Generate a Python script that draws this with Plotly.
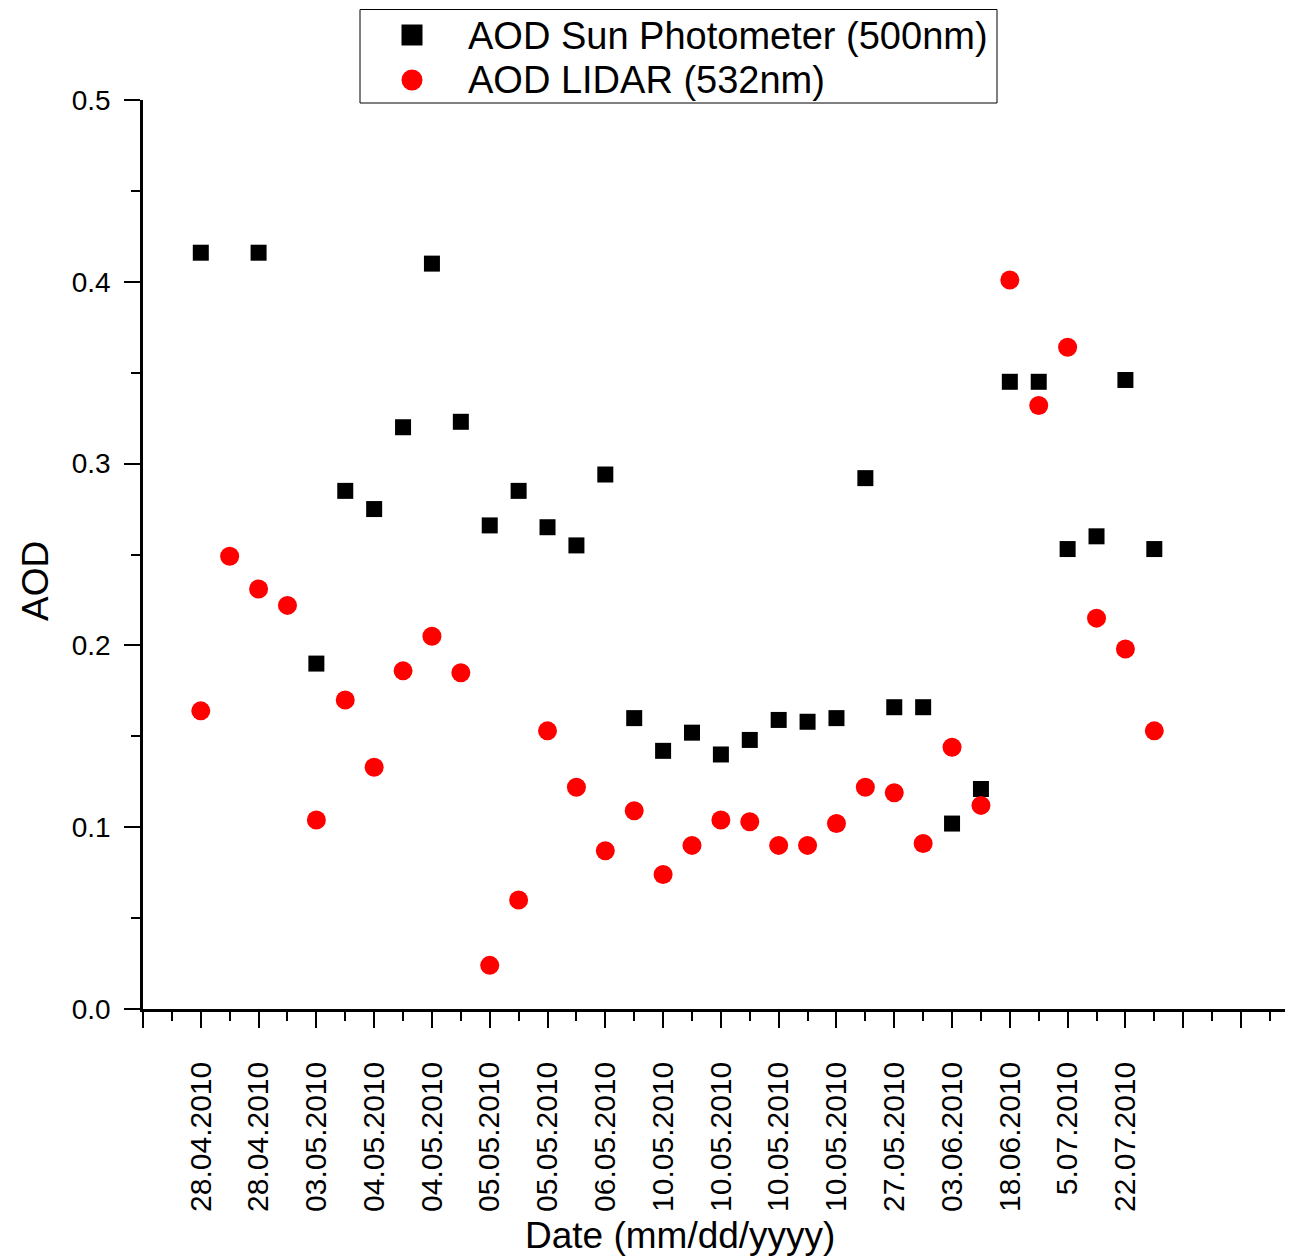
import plotly.graph_objects as go

# ---------------- data ----------------
date_labels = ["28.04.2010", "28.04.2010", "03.05.2010", "04.05.2010", "04.05.2010",
               "05.05.2010", "05.05.2010", "06.05.2010", "10.05.2010", "10.05.2010",
               "10.05.2010", "10.05.2010", "27.05.2010", "03.06.2010", "18.06.2010",
               "5.07.2010", "22.07.2010"]
label_positions = [2, 4, 6, 8, 10, 12, 14, 16, 18, 20, 22, 24, 26, 28, 30, 32, 34]

sun_x = [2, 4, 6, 7, 8, 9, 10, 11, 12, 13, 14, 15, 16, 17, 18, 19, 20, 21, 22, 23,
         24, 25, 26, 27, 28, 29, 30, 31, 32, 33, 34, 35]
sun_aod = [0.416, 0.416, 0.190, 0.285, 0.275, 0.320, 0.410, 0.323, 0.266, 0.285,
           0.265, 0.255, 0.294, 0.160, 0.142, 0.152, 0.140, 0.148, 0.159, 0.158,
           0.160, 0.292, 0.166, 0.166, 0.102, 0.121, 0.345, 0.345, 0.253, 0.260,
           0.346, 0.253]

lidar_x = [2, 3, 4, 5, 6, 7, 8, 9, 10, 11, 12, 13, 14, 15, 16, 17, 18, 19, 20, 21,
           22, 23, 24, 25, 26, 27, 28, 29, 30, 31, 32, 33, 34, 35]
lidar_aod = [0.164, 0.249, 0.231, 0.222, 0.104, 0.170, 0.133, 0.186, 0.205, 0.185,
             0.024, 0.060, 0.153, 0.122, 0.087, 0.109, 0.074, 0.090, 0.104, 0.103,
             0.090, 0.090, 0.102, 0.122, 0.119, 0.091, 0.144, 0.112, 0.401, 0.332,
             0.364, 0.215, 0.198, 0.153]

# ---------------- layout geometry ----------------
# the page body has an 8px margin, so the figure is drawn 8px smaller/offset
OFF = 8
W, H = 1293 - OFF, 1259 - OFF
ML, MR, MT = 143 - OFF, 0, 100 - OFF
PLOT_BOTTOM = 1009 - OFF
MB = H - PLOT_BOTTOM
PW, PH = W - ML - MR, H - MT - MB


def px(xp):
    """reference page pixel x -> paper coordinate"""
    return (xp - OFF - ML) / PW


def py(yp):
    """reference page pixel y -> paper coordinate"""
    return (PLOT_BOTTOM - (yp - OFF)) / PH


FONT = "Arial, Liberation Sans, sans-serif"

fig = go.Figure()
fig.add_trace(go.Scatter(x=sun_x, y=sun_aod, mode="markers", name="AOD Sun Photometer (500nm)",
                         marker=dict(symbol="square", size=16, color="black", line=dict(width=0))))
fig.add_trace(go.Scatter(x=lidar_x, y=lidar_aod, mode="markers", name="AOD LIDAR (532nm)",
                         marker=dict(symbol="circle", size=19, color="red", line=dict(width=0))))

major_vals = list(range(0, 39, 2))
major_text = ["" for _ in major_vals]
for lbl, pos in zip(date_labels, label_positions):
    major_text[major_vals.index(pos)] = lbl

fig.update_layout(
    width=W, height=H,
    margin=dict(l=ML, r=MR, t=MT, b=MB, pad=0),
    paper_bgcolor="white", plot_bgcolor="white",
    showlegend=False,
    font=dict(family=FONT, color="black"),
    xaxis=dict(
        range=[0, 39.8], showgrid=False, zeroline=False,
        showline=True, linecolor="black", linewidth=2.5,
        tickmode="array", tickvals=major_vals, ticktext=major_text,
        ticks="outside", ticklen=16, tickwidth=2, tickcolor="black",
        tickangle=-90, tickfont=dict(size=30, family=FONT, color="black"),
        ticklabelstandoff=22,
        minor=dict(tickmode="array", tickvals=list(range(1, 40, 2)), ticks="outside",
                   ticklen=9, tickwidth=2, tickcolor="black", showgrid=False),
    ),
    yaxis=dict(
        range=[0, 0.5], showgrid=False, zeroline=False,
        showline=True, linecolor="black", linewidth=2.5,
        tickmode="linear", tick0=0, dtick=0.1, tickformat=".1f",
        ticks="outside", ticklen=16, tickwidth=2, tickcolor="black",
        tickfont=dict(size=28, family=FONT, color="black"),
        ticklabelstandoff=8,
        minor=dict(dtick=0.05, ticks="outside", ticklen=9, tickwidth=2,
                   tickcolor="black", showgrid=False),
    ),
)

# axis titles
fig.add_annotation(x=px(35), y=py(581), xref="paper", yref="paper", text="AOD",
                   textangle=-90, showarrow=False, xanchor="center", yanchor="middle",
                   font=dict(size=37, family=FONT, color="black"))
fig.add_annotation(x=px(679.5), y=py(1235), xref="paper", yref="paper",
                   text="Date (mm/dd/yyyy)", showarrow=False, xanchor="center",
                   yanchor="middle", font=dict(size=37, family=FONT, color="black"))

# legend (drawn manually)
fig.add_shape(type="rect", xref="paper", yref="paper", x0=px(360), x1=px(997),
              y0=py(103), y1=py(9.5), line=dict(color="black", width=1), fillcolor="white",
              layer="above")
sq = 10.5
fig.add_shape(type="rect", xref="paper", yref="paper", x0=px(412 - sq), x1=px(412 + sq),
              y0=py(35 + sq), y1=py(35 - sq), line=dict(width=0), fillcolor="black")
fig.add_shape(type="circle", xref="paper", yref="paper", x0=px(412 - sq), x1=px(412 + sq),
              y0=py(80 + sq), y1=py(80 - sq), line=dict(width=0), fillcolor="red")
fig.add_annotation(x=px(466), y=py(36), xref="paper", yref="paper",
                   text=fig.data[0].name, showarrow=False, xanchor="left", yanchor="middle",
                   font=dict(size=38, family=FONT, color="black"))
fig.add_annotation(x=px(466), y=py(80), xref="paper", yref="paper",
                   text=fig.data[1].name, showarrow=False, xanchor="left", yanchor="middle",
                   font=dict(size=38, family=FONT, color="black"))

fig.write_html("out.html")
